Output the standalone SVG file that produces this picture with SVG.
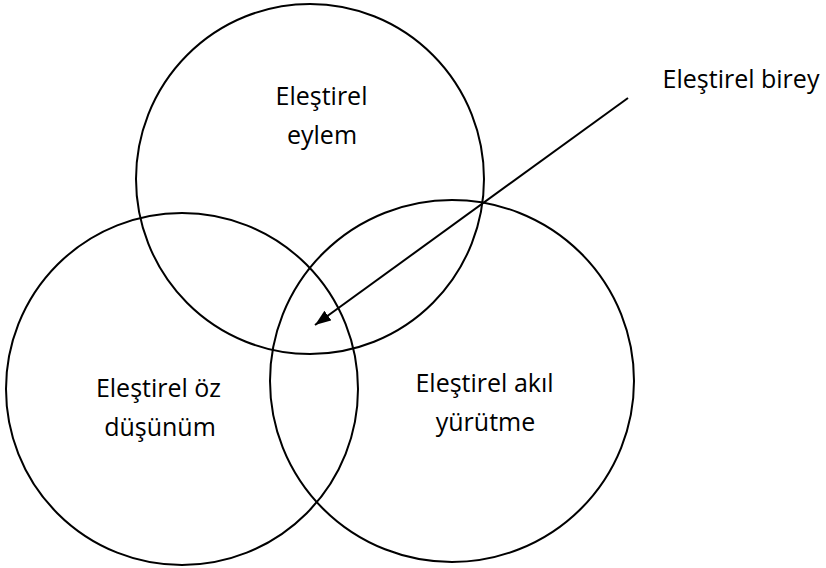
<svg xmlns="http://www.w3.org/2000/svg" width="826" height="568" viewBox="0 0 826 568">
<defs>
<style>
.c{fill:none;stroke:#000;stroke-width:2}
.t{font-family:"Open Sans","Liberation Sans",sans-serif;font-size:25px;fill:#000;text-anchor:middle}
</style>
<marker id="ah" markerWidth="16" markerHeight="12" refX="10" refY="5" orient="auto" markerUnits="userSpaceOnUse" viewBox="0 0 10 10" preserveAspectRatio="none">
<path d="M0,0 L10,5 L0,10 z" fill="#000"/>
</marker>
</defs>
<rect width="826" height="568" fill="#fff"/>
<g id="top"><ellipse class="c" cx="310" cy="179" rx="174" ry="175"/>
<text class="t" x="321.5" y="105">Eleştirel</text><text class="t" x="322" y="144">eylem</text></g>
<g id="left"><ellipse class="c" cx="182" cy="389" rx="176" ry="176"/>
<text class="t" x="158.5" y="397">Eleştirel öz</text><text class="t" x="160" y="436">düşünüm</text></g>
<g id="right"><ellipse class="c" cx="452" cy="381" rx="182" ry="181"/>
<text class="t" x="484.5" y="392">Eleştirel akıl</text><text class="t" x="485.5" y="431">yürütme</text></g>
<g id="label"><text class="t" x="741" y="88">Eleştirel birey</text></g>
<g id="connectors"><line x1="628" y1="98" x2="315" y2="325" stroke="#000" stroke-width="2" marker-end="url(#ah)"/></g>
</svg>
